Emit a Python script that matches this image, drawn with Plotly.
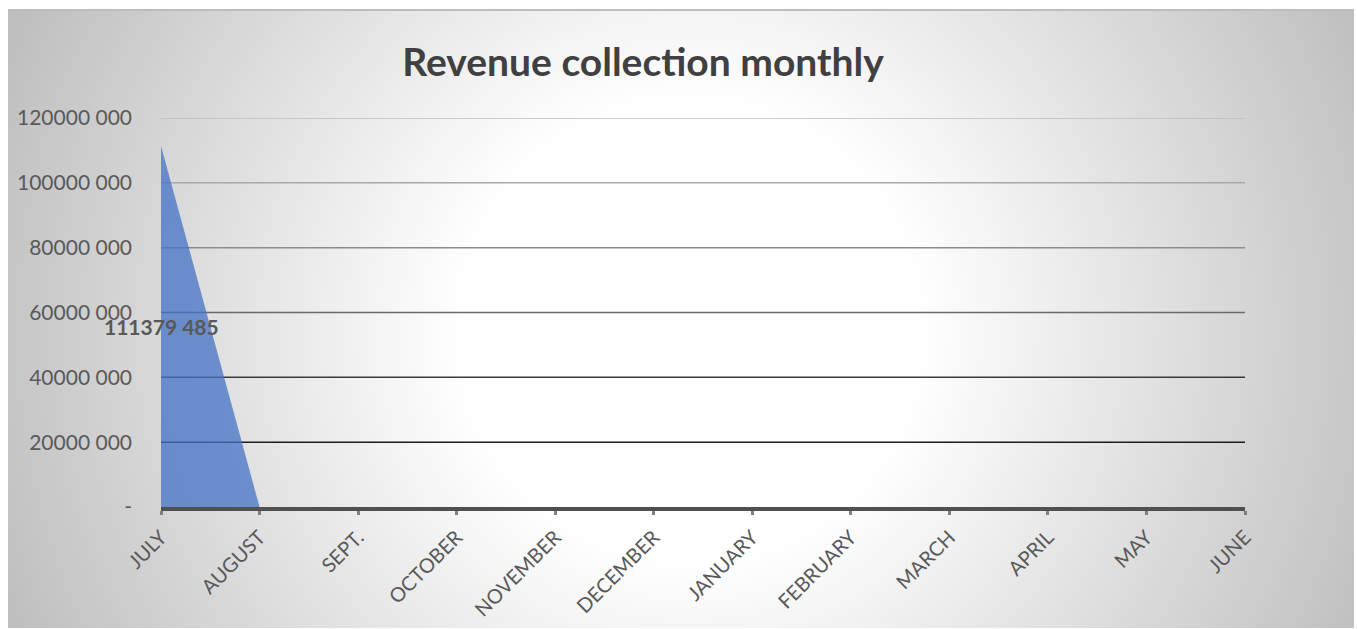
import base64
import plotly.graph_objects as go

# Monthly revenue collection for the fiscal year
months = ["JULY", "AUGUST", "SEPT.", "OCTOBER", "NOVEMBER", "DECEMBER",
          "JANUARY", "FEBRUARY", "MARCH", "APRIL", "MAY", "JUNE"]
revenue = [111379485, 0, 0, 0, 0, 0, 0, 0, 0, 0, 0, 0]

# Value axis ticks and their labels
y_ticks = [0, 20000000, 40000000, 60000000, 80000000, 100000000, 120000000]
y_tick_labels = ["-", "20000 000", "40000 000", "60000 000",
                 "80000 000", "100000 000", "120000 000"]
# Gridline shades, lighter toward the top (zero is drawn by the axis line)
grid_colors = [None, "#1c1c1c", "#3a3a3a", "#6a6a6a",
               "#8c8c8c", "#a8a8a8", "#bdbdbd"]

W, H = 1357, 629
L, R, T, B = 161, 112, 118, 122
pw, ph = W - L - R, H - T - B

# Radial grey-to-white background for the chart area
bx0, by0, bx1, by1 = 8, 9, 1354, 628
bw, bh = bx1 - bx0, by1 - by0
svg = f'''<svg xmlns="http://www.w3.org/2000/svg" width="{bw}" height="{bh}" viewBox="0 0 {bw} {bh}" preserveAspectRatio="none">
<defs><radialGradient id="g" gradientUnits="userSpaceOnUse" cx="{690 - bx0}" cy="{330 - by0}" r="760">
<stop offset="0" stop-color="#ffffff"/><stop offset="0.3" stop-color="#ffffff"/>
<stop offset="1" stop-color="#bcbcbc"/></radialGradient></defs>
<rect x="0" y="0" width="{bw}" height="{bh}" fill="url(#g)"/>
<rect x="0" y="0" width="{bw}" height="2" fill="#bdbdbd"/>
</svg>'''
bg_uri = "data:image/svg+xml;base64," + base64.b64encode(svg.encode()).decode()

fig = go.Figure()
fig.add_trace(go.Scatter(
    x=months, y=revenue, mode="lines", fill="tozeroy",
    line=dict(color="rgba(125,160,220,0.9)", width=0),
    fillcolor="rgba(68,114,196,0.75)", hoverinfo="skip", showlegend=False,
))

# Horizontal gridlines, one per non-zero value tick
for v, c in zip(y_ticks, grid_colors):
    if c is None:
        continue
    fig.add_shape(type="line", xref="x", yref="y", x0=months[0], x1=months[-1],
                  y0=v, y1=v, line=dict(color=c, width=1.5), layer="below")

# Data label for the July value
fig.add_annotation(x=months[0], y=revenue[0] / 2, text=f"{revenue[0] // 1000}\u00a0{revenue[0] % 1000:03d}",
                   showarrow=False, xanchor="center", yanchor="middle",
                   font=dict(family="Lato", size=21, color="#595959", weight="bold"))

fig.add_layout_image(dict(
    source=bg_uri, xref="paper", yref="paper",
    x=(bx0 - L) / pw, y=(H - B - by0) / ph,
    sizex=bw / pw, sizey=bh / ph, xanchor="left", yanchor="top",
    sizing="stretch", layer="below",
))

fig.update_layout(
    width=W, height=H,
    margin=dict(l=L, r=R, t=T, b=B, autoexpand=False),
    paper_bgcolor="white", plot_bgcolor="rgba(0,0,0,0)",
    title=dict(text="<b>Revenue collection monthly</b>", x=(643 - L) / pw, xref="paper",
               y=(H - 62) / H, yanchor="middle", xanchor="center",
               font=dict(family="Lato", size=39, color="#404040")),
    font=dict(family="Lato", color="#595959"),
)
fig.update_xaxes(
    type="category", range=[0, len(months) - 1], showgrid=False,
    tickangle=-45, tickfont=dict(size=20, color="#595959"),
    ticks="outside", ticklen=4, tickwidth=3, tickcolor="#808080",
    showline=True, linecolor="#505050", linewidth=3.5,
    zeroline=False, ticklabelstandoff=3, automargin=False,
)
fig.update_yaxes(
    range=[0, 120000000], tickvals=y_ticks, ticktext=y_tick_labels,
    showgrid=False, zeroline=False, showline=False, automargin=False,
    tickfont=dict(size=21, color="#595959"), ticklabelstandoff=28,
)

fig.write_html("out.html")
